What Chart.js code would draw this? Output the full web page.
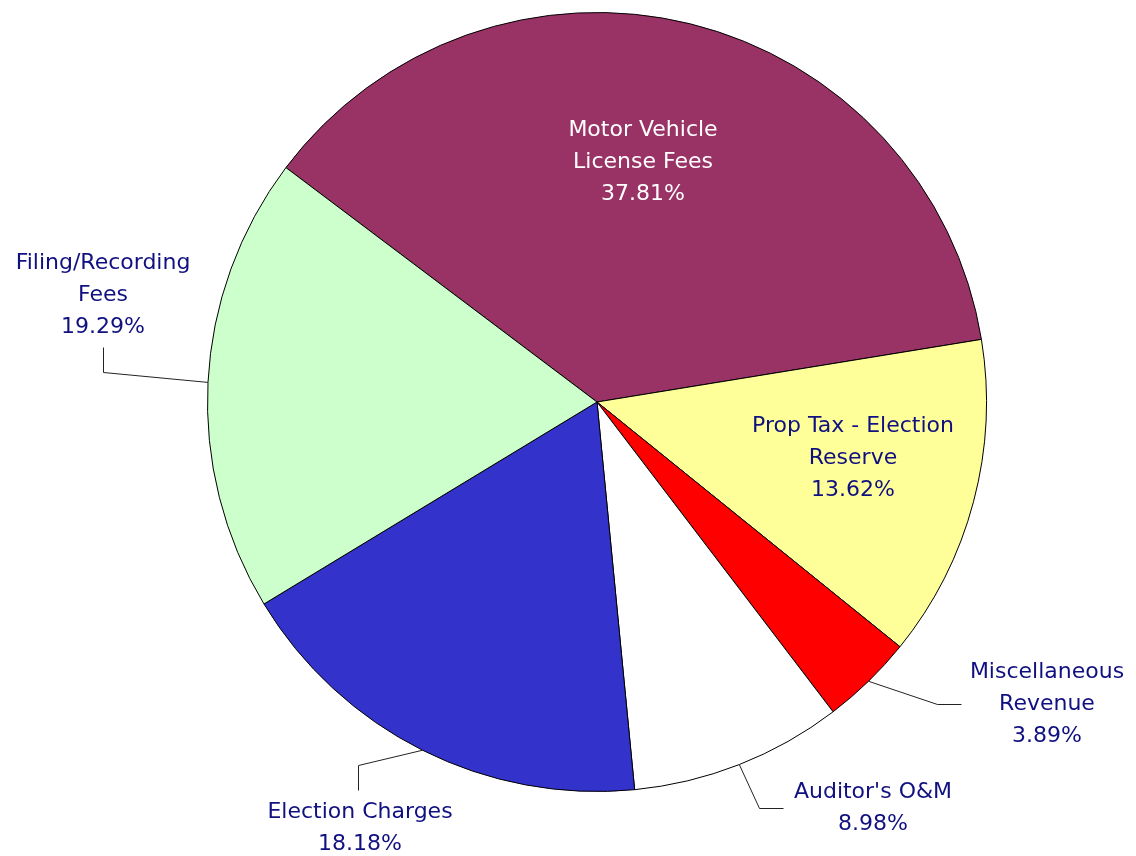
<!DOCTYPE html>
<html>
<head>
<meta charset="utf-8">
<script src="https://cdn.jsdelivr.net/npm/chart.js@4/dist/chart.umd.min.js"></script>
<style>
  body { margin: 0; background: #fff; }
  #wrap { width: 1136px; height: 856px; }
</style>
</head>
<body>
<div id="wrap"><canvas id="pieChart" width="1136" height="856"></canvas></div>
<script>
const categories = [
  ["Motor Vehicle", "License Fees"],
  ["Prop Tax - Election", "Reserve"],
  ["Miscellaneous", "Revenue"],
  ["Auditor's O&M"],
  ["Election Charges"],
  ["Filing/Recording", "Fees"]
];
const percents = [37.81, 13.62, 3.89, 8.98, 18.18, 19.29];
const sliceColors = ['#993366', '#ffff99', '#ff0000', '#ffffff', '#3333cc', '#ccffcc'];

// label placement, px relative to the pie centre (text) and leader bends
const labelLayout = [
  { text: [46, -272], color: '#ffffff' },
  { text: [256, 24], color: '#101080' },
  { text: [450, 270], color: '#101080', leader: [[340, 302], [364, 302]] },
  { text: [276, 390], color: '#101080', leader: [[162, 406], [186, 406]] },
  { text: [-237, 410], color: '#101080', leader: [[-239, 363], [-239, 388]] },
  { text: [-494, -139], color: '#101080', leader: [[-494, -30], [-494, -55]] }
];

const labelPlugin = {
  id: 'pieLabels',
  afterDatasetsDraw(chart) {
    const ctx = chart.ctx;
    const meta = chart.getDatasetMeta(0);
    ctx.save();
    meta.data.forEach((arc, i) => {
      const cx = arc.x, cy = arc.y;
      const mid = (arc.startAngle + arc.endAngle) / 2;
      const lay = labelLayout[i];
      if (lay.leader) {
        ctx.beginPath();
        ctx.strokeStyle = '#222222';
        ctx.lineWidth = 1;
        ctx.moveTo(cx + Math.cos(mid) * arc.outerRadius, cy + Math.sin(mid) * arc.outerRadius);
        lay.leader.forEach(p => ctx.lineTo(cx + p[0] + 0.5, cy + p[1] + 0.5));
        ctx.stroke();
      }
      const lines = categories[i].concat([percents[i].toFixed(2) + '%']);
      ctx.fillStyle = lay.color;
      ctx.font = '22px "DejaVu Sans"';
      ctx.textAlign = 'center';
      ctx.textBaseline = 'middle';
      lines.forEach((t, k) => {
        ctx.fillText(t, cx + lay.text[0], cy + lay.text[1] + k * 32);
      });
    });
    ctx.restore();
  }
};

new Chart(document.getElementById('pieChart').getContext('2d'), {
  type: 'pie',
  data: {
    labels: categories.map(c => c.join(' ')),
    datasets: [{
      data: percents,
      backgroundColor: sliceColors,
      borderColor: '#000000',
      borderWidth: 1
    }]
  },
  options: {
    responsive: false,
    animation: false,
    rotation: -53,
    layout: { padding: { top: 12, bottom: 64, left: 207, right: 149 } },
    plugins: {
      legend: { display: false },
      tooltip: { enabled: false }
    }
  },
  plugins: [labelPlugin]
});
</script>
</body>
</html>
